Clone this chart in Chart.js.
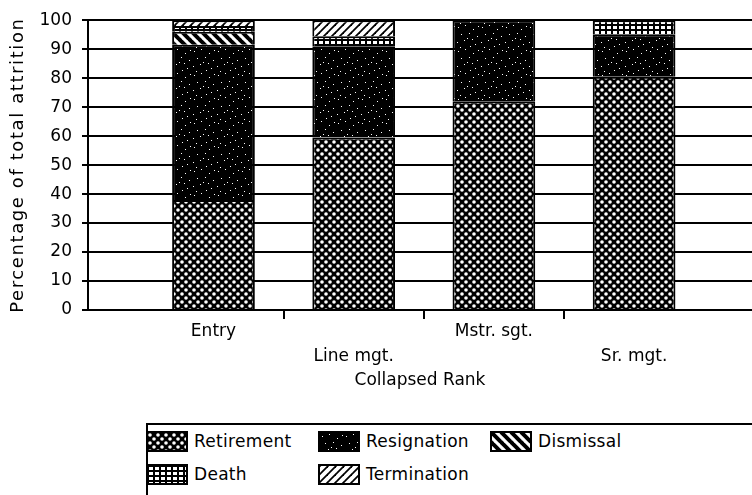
<!DOCTYPE html>
<html>
<head>
<meta charset="utf-8">
<script src="https://cdn.jsdelivr.net/npm/chart.js@4"></script>
<style>
body { margin: 0; background: #fff; width: 752px; height: 495px; overflow: hidden; position: relative; font-family: 'DejaVu Sans', sans-serif; }
#wrap { position: absolute; left: 0; top: 0; width: 752px; height: 400px; }
#legendas { position: absolute; left: 146px; top: 423px; width: 640px; height: 100px; border: 2px solid #000; box-sizing: border-box; }
.swatch { position: absolute; width: 42px; height: 21px; border: 2px solid #000; box-sizing: border-box; }
.rotulo { position: absolute; white-space: nowrap; font-size: 17px; line-height: 21px; letter-spacing: 0.3px; color: #000; }
</style>
</head>
<body>
<div id="wrap"><canvas id="grafico"></canvas></div>
<div id="legendas"></div>
<script>
let categorias = ['Entry', 'Line mgt.', 'Mstr. sgt.', 'Sr. mgt.'];
let series = ['Retirement', 'Resignation', 'Dismissal', 'Death', 'Termination'];
let retirement = [38, 59.5, 72, 80.5];
let resignation = [53.5, 31.5, 28, 14.5];
let dismissal = [4.5, 0, 0, 0];
let death = [2, 3.5, 0, 5];
let termination = [2, 5.5, 0, 0];
let yTicks = [0, 10, 20, 30, 40, 50, 60, 70, 80, 90, 100];

// pontinhos brancos fixos da textura "Resignation"
let salpicos = [[2, 3], [9, 1], [17, 5], [21, 12], [5, 10], [13, 9], [19, 20], [1, 18], [8, 16], [14, 22], [11, 14], [22, 2], [4, 23], [16, 15]];

function criarTile(w, h, desenhar) {
    let c = document.createElement('canvas');
    c.width = w;
    c.height = h;
    let g = c.getContext('2d');
    desenhar(g, w, h);
    return c;
}

// texturas preto e branco da figura original
let tiles = [
    criarTile(8, 8, (g) => {            // Retirement (pontos brancos em fundo preto)
        g.fillStyle = '#000'; g.fillRect(0, 0, 8, 8);
        g.fillStyle = '#fff';
        g.beginPath(); g.arc(2, 2, 1.8, 0, Math.PI * 2); g.fill();
        g.beginPath(); g.arc(6, 6, 1.8, 0, Math.PI * 2); g.fill();
    }),
    criarTile(24, 24, (g) => {          // Resignation (preto salpicado)
        g.fillStyle = '#000'; g.fillRect(0, 0, 24, 24);
        g.fillStyle = '#fff';
        salpicos.forEach(p => g.fillRect(p[0], p[1], 1, 1));
    }),
    criarTile(10, 10, (g) => {          // Dismissal (listras \)
        g.fillStyle = '#fff'; g.fillRect(0, 0, 10, 10);
        g.strokeStyle = '#000'; g.lineWidth = 4;
        for (let o = -10; o <= 10; o += 10) {
            g.beginPath(); g.moveTo(o - 1, -1); g.lineTo(o + 11, 11); g.stroke();
        }
    }),
    criarTile(6, 5, (g) => {            // Death (grade)
        g.fillStyle = '#000'; g.fillRect(0, 0, 6, 5);
        g.fillStyle = '#fff'; g.fillRect(1, 1, 4, 3);
    }),
    criarTile(8, 8, (g) => {            // Termination (listras /)
        g.fillStyle = '#fff'; g.fillRect(0, 0, 8, 8);
        g.strokeStyle = '#000'; g.lineWidth = 1.8;
        for (let o = -8; o <= 8; o += 8) {
            g.beginPath(); g.moveTo(o - 1, 9); g.lineTo(o + 9, -1); g.stroke();
        }
    })
];

document.addEventListener('DOMContentLoaded', (event) => {
    renderizarGrafico();
    renderizarLegenda();
});

function renderizarGrafico() {
    let ctx = document.getElementById('grafico').getContext('2d');
    let valores = [retirement, resignation, dismissal, death, termination];

    Chart.defaults.font.family = "'DejaVu Sans', sans-serif";
    Chart.defaults.font.size = 17;
    Chart.defaults.color = '#000';

    let data = {
        datasets: series.map((nome, s) => ({
            label: nome,
            data: valores[s].map((v, i) => ({ x: i, y: v })),
            backgroundColor: ctx.createPattern(tiles[s], 'repeat'),
            borderColor: '#000',
            borderWidth: 2,
            stack: 'rank',
            barPercentage: 0.59,
            categoryPercentage: 1
        }))
    };

    let options = {
        responsive: true,
        maintainAspectRatio: false,
        animation: false,
        layout: { padding: { top: 18, right: 0, bottom: 0, left: 0 } },
        plugins: { legend: { display: false }, tooltip: { enabled: false } },
        scales: {
            x: {
                type: 'linear',
                offset: false,
                min: -0.895,
                max: 3.841,
                afterBuildTicks: (scale) => {
                    scale.ticks = categorias.map((c, i) => ({ value: i }));
                },
                afterFit: (scale) => { scale.height = 90; },
                ticks: {
                    maxRotation: 0,
                    autoSkip: false,
                    padding: 0,
                    font: { size: 17, lineHeight: 1.47 },
                    callback: (value, index) => index % 2 ? ['', categorias[index]] : categorias[index]
                },
                grid: {
                    offset: true,
                    drawOnChartArea: false,
                    tickLength: 9,
                    lineWidth: 2,
                    color: (c) => (c.index > 0 && c.index < categorias.length) ? '#000' : 'rgba(0,0,0,0)'
                },
                border: { display: true, color: '#000', width: 2 },
                title: { display: true, text: 'Collapsed Rank', font: { size: 17 }, padding: { top: 0, bottom: 9 } }
            },
            y: {
                stacked: true,
                min: 0,
                max: 100,
                afterBuildTicks: (scale) => {
                    scale.ticks = yTicks.map(v => ({ value: v }));
                },
                afterFit: (scale) => {
                    scale.width = 88;
                    // titulo do eixo y mais espaçado, como no original
                    scale.drawTitle = function () {
                        this.ctx.save();
                        this.ctx.letterSpacing = '1.6px';
                        Object.getPrototypeOf(this).drawTitle.call(this);
                        this.ctx.restore();
                    };
                },
                ticks: { padding: 10, font: { size: 17 } },
                grid: { color: '#000', lineWidth: 2, tickLength: 6 },
                border: { display: true, color: '#000', width: 2 },
                title: { display: true, text: 'Percentage of total attrition', font: { size: 18 }, padding: { top: 8, bottom: 0 } }
            }
        }
    };

    new Chart(ctx, {
        type: 'bar',
        data: data,
        options: options
    });
}

function renderizarLegenda() {
    let legendHtml = '';
    series.forEach((nome, s) => {
        let x = 146 + (s % 3) * 172;
        let y = 431 + Math.floor(s / 3) * 33;
        let img = tiles[s].toDataURL();
        legendHtml += `<div class="swatch" style="left:${x}px;top:${y}px;background-image:url(${img})"></div>`;
        legendHtml += `<div class="rotulo" style="left:${x + 48}px;top:${y}px">${nome}</div>`;
    });
    document.body.insertAdjacentHTML('beforeend', legendHtml);
}
</script>
</body>
</html>
